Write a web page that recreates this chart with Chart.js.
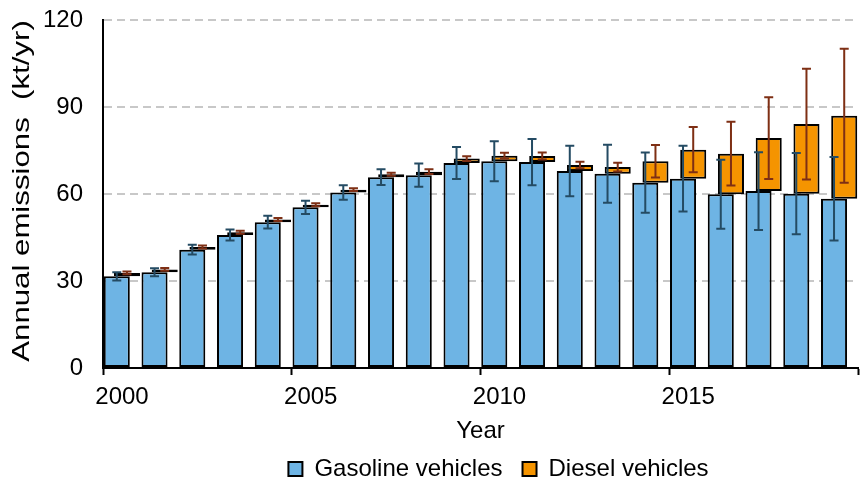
<!DOCTYPE html>
<html><head><meta charset="utf-8">
<script src="https://cdn.jsdelivr.net/npm/chart.js@4.4.1/dist/chart.umd.min.js"></script>
<style>html,body{margin:0;padding:0;background:#fff}#wrap{width:866px;height:479px}</style>
</head><body><div id="wrap"><canvas id="c" width="866" height="479"></canvas></div>
<script>
const years = [2000,2001,2002,2003,2004,2005,2006,2007,2008,2009,2010,2011,2012,2013,2014,2015,2016,2017,2018,2019];
const gasoline    = [31.6,33.0,40.8,45.9,50.3,55.4,60.5,65.8,66.5,70.7,71.3,71.0,67.9,67.0,63.9,65.3,59.9,61.0,60.1,58.4];
const diesel      = [1.2,1.0,0.9,0.9,0.9,0.9,1.0,1.0,1.2,1.5,1.9,2.1,2.1,2.3,7.4,10.0,14.0,18.3,24.0,28.6];
const gasolineErr = [1.4,1.4,1.7,1.9,2.2,2.3,2.5,2.7,4.0,5.5,6.9,8.0,8.7,10.0,10.4,11.3,11.9,13.4,14.0,14.4];
const dieselErr   = [0.5,0.5,0.5,0.5,0.5,0.5,0.5,0.5,0.8,0.8,1.0,1.2,1.1,1.5,5.6,7.8,11.0,14.1,19.1,23.1];
const xTickLabels = [2000,2005,2010,2015];
const seriesNames = ['Gasoline vehicles','Diesel vehicles'];
const xTitle = 'Year';
const yTitle = 'Annual emissions  (kt/yr)';

const FAMILY = "'Liberation Sans', Arial, sans-serif";
const FONT = {family:FAMILY, size:24};
const TEXT = '#000';
const BLUE = '#6EB4E4', ORANGE = '#F59400';
const GAS_SHIFT = 0.365, DIESEL_SHIFT = 0.635;

const totals = gasoline.map((g,i)=>g+diesel[i]);

const errorBarPlugin = {
  id:'errorBars',
  afterDatasetsDraw(chart){
    const ctx = chart.ctx, ys = chart.scales.y;
    chart.data.datasets.forEach((ds,di)=>{
      const eb = ds.errorBars; if(!eb) return;
      const meta = chart.getDatasetMeta(di);
      ctx.save();
      ctx.strokeStyle = eb.color; ctx.lineWidth = 2;
      meta.data.forEach((el,i)=>{
        const x = el.x;
        const t = ys.getPixelForValue(eb.center[i]+eb.err[i]);
        const b = ys.getPixelForValue(eb.center[i]-eb.err[i]);
        ctx.beginPath();
        ctx.moveTo(x,t); ctx.lineTo(x,b);
        ctx.moveTo(x-4.5,t); ctx.lineTo(x+4.5,t);
        ctx.moveTo(x-4.5,b); ctx.lineTo(x+4.5,b);
        ctx.stroke();
      });
      ctx.restore();
    });
  }
};

// y-axis title, drawn slightly stretched along its length as in the reference
const yTitlePlugin = {
  id:'yTitleStretched',
  afterDraw(chart){
    const ctx = chart.ctx, ca = chart.chartArea;
    ctx.save();
    ctx.translate(22, (ca.top+ca.bottom)/2 - 3);
    ctx.rotate(-Math.PI/2);
    ctx.scale(1.3,1);
    ctx.font = "24px " + FAMILY;
    ctx.fillStyle = TEXT;
    ctx.textAlign = 'center';
    ctx.textBaseline = 'middle';
    ctx.fillText(yTitle,0,0);
    ctx.restore();
  }
};

// nudge the legend row to sit under the plot as in the reference
const legendShiftPlugin = {
  id:'legendShift',
  afterLayout(chart){
    if(chart.legend){ chart.legend.left += 18; chart.legend.right += 18; }
  }
};

new Chart(document.getElementById('c'),{
  type:'bar',
  data:{
    datasets:[
      {label:seriesNames[0], data:years.map((yr,i)=>({x:yr+GAS_SHIFT,y:gasoline[i]})),
       backgroundColor:BLUE, borderColor:'#000', borderWidth:2, borderSkipped:false,
       grouped:false, barPercentage:0.69, categoryPercentage:1, xAxisID:'x', order:1,
       errorBars:{center:gasoline, err:gasolineErr, color:'#244B63'}},
      {label:seriesNames[1], data:years.map((yr,i)=>({x:yr+DIESEL_SHIFT,y:[gasoline[i],totals[i]]})),
       backgroundColor:ORANGE, borderColor:'#000', borderWidth:2, borderSkipped:false,
       grouped:false, barPercentage:0.69, categoryPercentage:1, xAxisID:'x2', order:0,
       errorBars:{center:totals, err:dieselErr, color:'#7E2F14'}}
    ]
  },
  options:{
    responsive:false, animation:false, devicePixelRatio:1,
    layout:{padding:{top:20,right:3,bottom:-12,left:0}},
    plugins:{
      tooltip:{enabled:false},
      legend:{position:'bottom', fullSize:false,
        labels:{boxWidth:14, boxHeight:14, padding:20, font:FONT, color:TEXT,
          sort:(a,b)=>a.datasetIndex-b.datasetIndex}}
    },
    scales:{
      x:{type:'linear', position:'bottom', min:2000, max:2020, offset:false,
        afterFit:(s)=>{s.height=69;},
        ticks:{stepSize:5, autoSkip:false, maxRotation:0, labelOffset:19, padding:8, font:FONT, color:TEXT,
          callback:(v)=> xTickLabels.includes(v) ? String(v) : ''},
        grid:{drawOnChartArea:false, drawTicks:true, tickLength:7, tickWidth:2, tickColor:'#000', offset:false},
        border:{display:true, color:'#000', width:2},
        title:{display:true, text:xTitle, font:{family:FAMILY, size:24, lineHeight:0.5}, color:TEXT, padding:{top:0,bottom:0}}},
      x2:{type:'linear', display:false, min:2000, max:2020, offset:false},
      y:{min:0, max:120,
        afterFit:(s)=>{s.width=103;},
        ticks:{stepSize:30, padding:0, font:FONT, color:TEXT},
        grid:{lineWidth:2, drawTicks:true, tickLength:20, tickColor:'rgba(0,0,0,0)',
          color:(c)=> c.tick && c.tick.value===0 ? 'rgba(0,0,0,0)' : '#C8C8C8'},
        border:{display:true, color:'#000', width:2, dash:[8,5]},
        title:{display:false, text:yTitle}}
    }
  },
  plugins:[errorBarPlugin, yTitlePlugin, legendShiftPlugin]
});
</script></body></html>
